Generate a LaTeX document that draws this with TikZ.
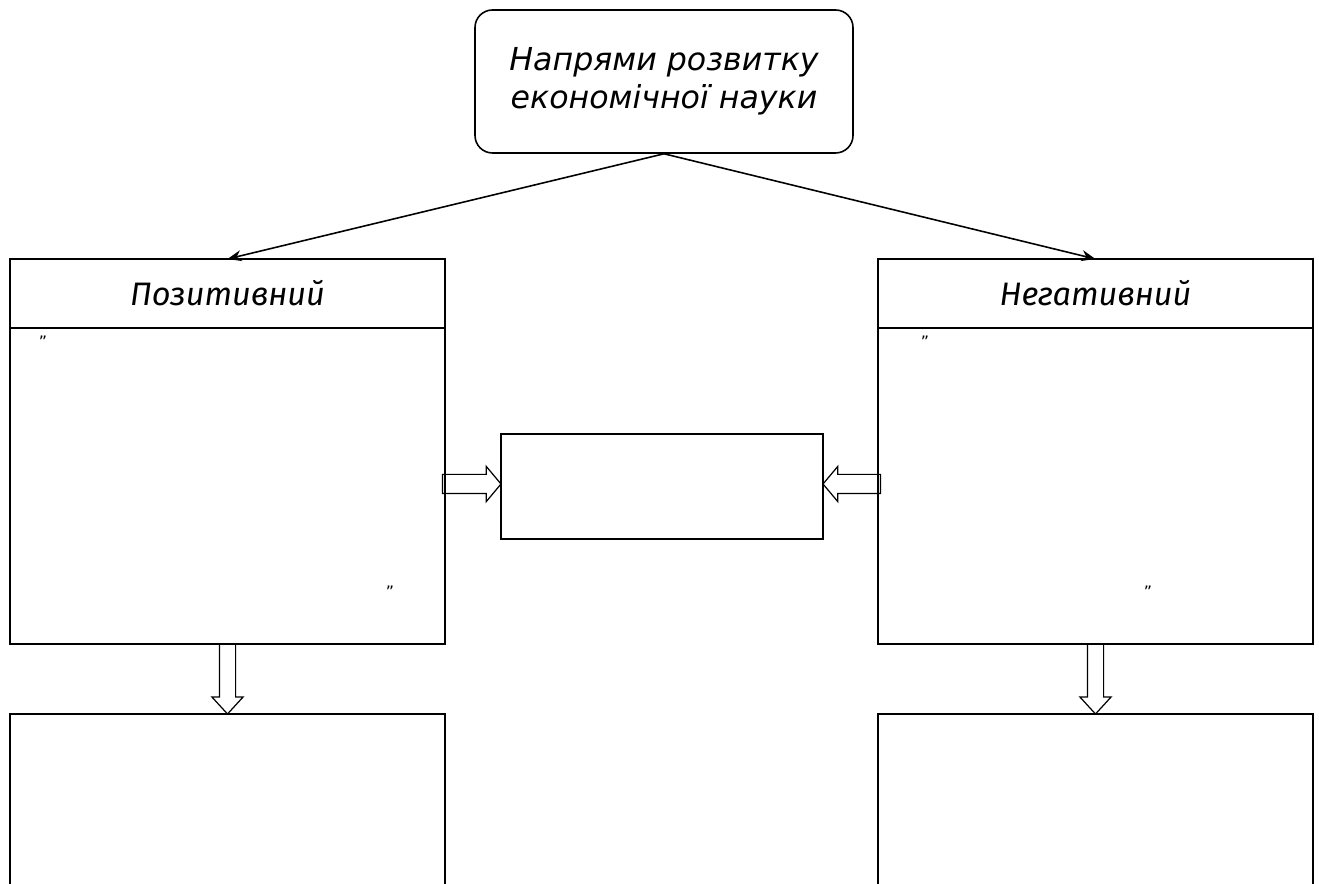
\documentclass[tikz,border=0pt]{standalone}
\usepackage{fontspec}
\setmainfont{DejaVu Sans}
\newfontfamily\headfont{Fira Sans}
\usetikzlibrary{positioning, arrows.meta, calc, shapes.arrows}

\begin{document}
\begin{tikzpicture}[node distance=1.4cm, >={Stealth[length=2.8mm, width=2.2mm]}, line width=0.9pt]
        \tikzset{
            topbox/.style={rectangle, draw, rounded corners=0.35cm, minimum width=7.56cm, minimum height=2.86cm, align=center, font=\fontsize{18}{21.5}\selectfont\itshape},
            headbox/.style={rectangle, draw, outer sep=0pt, minimum width=8.7cm, minimum height=1.38cm, font=\headfont\fontsize{18.5}{22}\selectfont\itshape},
            bodybox/.style={rectangle, draw, outer sep=0pt, minimum width=8.7cm, minimum height=6.32cm},
            endbox/.style={rectangle, draw, outer sep=0pt, minimum width=8.7cm, minimum height=4cm},
            midbox/.style={rectangle, draw, outer sep=0pt, minimum width=6.44cm, minimum height=2.1cm},
            blockarrow/.style={single arrow, draw, line width=0.7pt, outer sep=0pt, inner xsep=0pt, inner ysep=0.18cm, minimum width=0.68cm, single arrow head extend=0.16cm, single arrow tip angle=100},
            thinarrow/.style={blockarrow, inner ysep=0.15cm, minimum width=0.6cm, single arrow head extend=0.15cm, single arrow tip angle=85},
            fat/.style={to path={let \p1=($(\tikztotarget)-(\tikztostart)$) in (\tikztostart) -- (\tikztotarget) node[#1, pos=0, anchor=tail, sloped, allow upside down, minimum height={veclen(\x1,\y1)}] {}}},
            quotemark/.style={inner sep=0pt, font=\fontsize{9}{10}\selectfont}
        }
        \clip (0,0) rectangle (26.38,-17.68);

        \node[topbox] (top) at (13.28,-1.63) {Напрями розвитку\\економічної науки};

        \node[headbox, anchor=north] (positHead) at (4.55,-5.18) {Позитивний};
        \node[bodybox, below=0pt of positHead] (positBody) {};
        \node[endbox, below=of positBody] (positEnd) {};

        \node[headbox, anchor=north] (negatHead) at (21.91,-5.18) {Негативний};
        \node[bodybox, below=0pt of negatHead] (negatBody) {};
        \node[endbox, below=of negatBody] (negatEnd) {};

        \node[midbox] (mid) at (13.24,-9.73) {};

        % little marks in the boxes
        \node[quotemark] (q1) at (0.86,-6.84) {"};
        \node[quotemark] (q2) at (7.8,-11.84) {"};
        \node[quotemark] (q3) at (18.5,-6.84) {"};
        \node[quotemark] (q4) at (22.96,-11.84) {"};

        \draw[->] (top.south) -- (positHead.north);
        \draw[->] (top.south) -- (negatHead.north);
        \path[fat=blockarrow] ($(positBody.east |- mid)+(-0.05,0.05)$) to ($(mid.west)+(0,0.05)$);
        \path[fat=blockarrow] ($(negatBody.west |- mid)+(0.05,0.05)$) to ($(mid.east)+(0,0.05)$);
        \path[fat=thinarrow] (positBody.south) to (positEnd.north);
        \path[fat=thinarrow] (negatBody.south) to (negatEnd.north);

    \end{tikzpicture}
\end{document}
